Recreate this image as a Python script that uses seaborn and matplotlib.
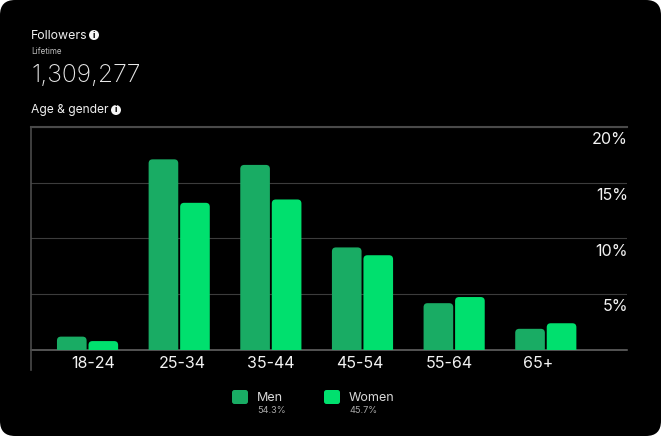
import pandas as pd
import seaborn as sns
import matplotlib.pyplot as plt
from matplotlib.patches import FancyBboxPatch, Circle
from matplotlib.lines import Line2D
from matplotlib.transforms import ScaledTranslation

# values
age_groups = ["18-24", "25-34", "35-44", "45-54", "55-64", "65+"]
men = [1.2, 17.1, 16.6, 9.2, 4.2, 1.9]
women = [0.8, 13.2, 13.5, 8.5, 4.75, 2.4]
y_ticks = [5, 10, 15, 20]
y_labels = ["5%", "10%", "15%", "20%"]
legend_names = ["Men", "Women"]
legend_shares = ["54.3%", "45.7%"]
colors = ["#19AC64", "#00E06E"]

W, H = 662, 436
plt.rcParams["font.family"] = ["Inter", "DejaVu Sans"]

df = pd.DataFrame({"age": age_groups * 2,
                   "pct": men + women,
                   "sex": ["Men"] * 6 + ["Women"] * 6})

fig = plt.figure(figsize=(W / 100, H / 100), dpi=100, facecolor="white")

# black card with rounded corners
card = FancyBboxPatch((0, 0), W - 1, H, boxstyle="round,pad=0,rounding_size=15",
                      transform=None, facecolor="black", edgecolor="none", zorder=-5)
fig.patches.append(card)
card.set_figure(fig)

ax = fig.add_axes([31 / W, 1 - 350 / H, (627 - 31) / W, (350 - 127) / H])
ax.patch.set_alpha(0)

sns.barplot(data=df, x="age", y="pct", hue="sex", palette=colors, width=0.688, gap=0.06,
            saturation=1, legend=False, ax=ax, zorder=3)

ax.set_xlim(-0.617, 5.886)
ax.set_ylim(0, 20)

# swap the square bars for ones with rounded corners
px_x = (627 - 31) / 6.503
px_y = (350 - 127) / 20
for bar in list(ax.patches):
    x, w, h = bar.get_x(), bar.get_width(), bar.get_height()
    if h <= 0:
        continue
    r = 4 / px_x
    rounded = FancyBboxPatch((x, -1), w, h + 1, boxstyle=f"round,pad=0,rounding_size={r}",
                             mutation_aspect=px_x / px_y, facecolor=bar.get_facecolor(),
                             edgecolor="none", zorder=3)
    ax.add_patch(rounded)
    rounded.set_clip_box(ax.bbox)
    bar.remove()

ax.set_xlabel("")
ax.set_ylabel("")
ax.set_yticks(y_ticks)
ax.set_yticklabels([])
ax.tick_params(axis="both", length=0)
ax.tick_params(axis="x", colors="#F2F2F2", labelsize=11.5, pad=4)
ax.grid(axis="y", color="#3C3C3C", linewidth=0.8, zorder=1)
ax.set_axisbelow(True)

# the age labels sit a little tighter than the bar groups
for i, t in enumerate(ax.get_xticklabels()):
    t.set_transform(t.get_transform() + ScaledTranslation((5.2 - 2.6 * i) / 100, 0, fig.dpi_scale_trans))

for t, lab in zip(y_ticks, y_labels):
    ax.annotate(lab, (1, t), xycoords=("axes fraction", "data"), xytext=(0.8, -3.6),
                textcoords="offset points", ha="right", va="top",
                color="#F2F2F2", fontsize=11.6)

ax.spines["right"].set_visible(False)
ax.spines["left"].set_visible(False)
ax.spines["top"].set_color("#4A4A4A")
ax.spines["top"].set_linewidth(1.5)
ax.spines["bottom"].set_color("#6A6A6A")
ax.spines["bottom"].set_linewidth(1.1)

# left rule runs on below the baseline
fig.add_artist(Line2D([31 / W, 31 / W], [1 - 127 / H, 1 - 370 / H], color="#4A4A4A", linewidth=1.2))


def label(x, y, s, size, color="#F0F0F0", **kw):
    fig.text(x / W, 1 - y / H, s, fontsize=size, color=color, va="center", **kw)


def info(x, y):
    fig.add_artist(Circle((x, H - y), 5, transform=None, facecolor="#F5F5F5", edgecolor="none"))
    fig.text(x / W, 1 - y / H, "i", fontsize=6.5, color="black", ha="center", va="center",
             fontweight="bold")


label(31, 36, "Followers", 8.9)
info(94, 35)
label(31, 51.5, "Lifetime", 5.8, color="#BDBDBD")
label(31, 75.5, "1,309,277", 17.8, color="#E8E8E8", fontweight="light")
label(31, 110.5, "Age & gender", 8.7)
info(116, 110)

# legend
for x0, name, share, c in zip([232, 324], legend_names, legend_shares, colors):
    fig.patches.append(FancyBboxPatch((x0, H - 404), 16, 14, boxstyle="round,pad=0,rounding_size=2.5",
                                      transform=None, facecolor=c, edgecolor="none"))
    label(x0 + 25, 397.5, name, 9.0, color="#D8D8D8")
    label(x0 + 25, 410.5, share, 6.6, color="#A8A8A8")

fig.savefig("out.png", dpi=100, facecolor=fig.get_facecolor())
